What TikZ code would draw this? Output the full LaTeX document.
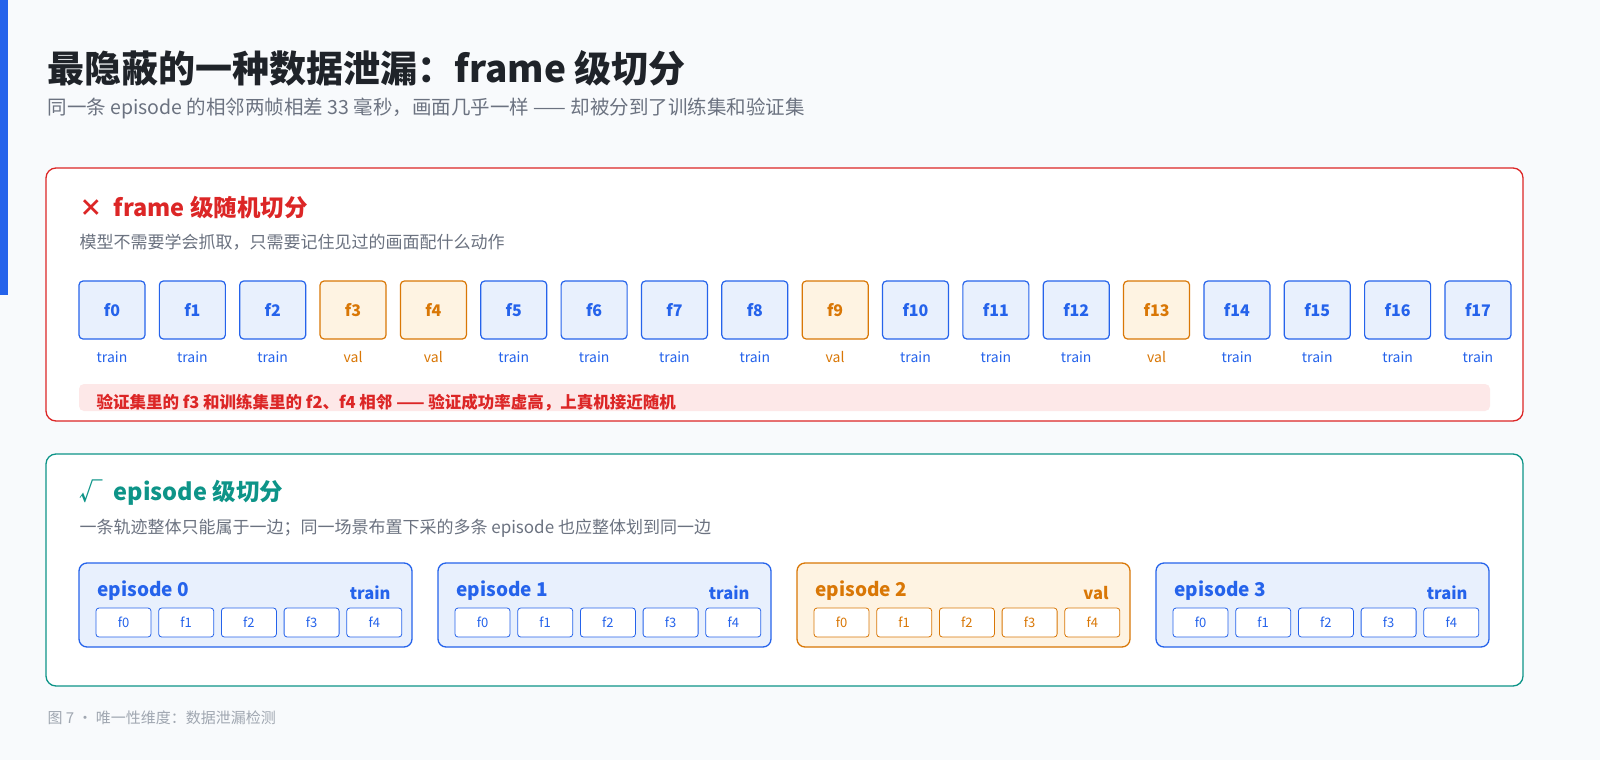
\documentclass[tikz,border=0pt]{standalone}
\usepackage{fontspec}
\setmainfont{Noto Sans CJK SC}
\definecolor{bg}{HTML}{F8FAFC}
\definecolor{bl}{HTML}{2563EB}
\definecolor{blf}{HTML}{E8F0FD}
\definecolor{og}{HTML}{D97706}
\definecolor{ogf}{HTML}{FEF3E2}
\definecolor{rd}{HTML}{DC2626}
\definecolor{rdf}{HTML}{FDE8E8}
\definecolor{tl}{HTML}{0D9488}
\definecolor{tx}{HTML}{1F2329}
\definecolor{gr}{HTML}{6B7280}
\definecolor{lg}{HTML}{A0A7B1}
\begin{document}
\begin{tikzpicture}[x=1pt,y=-1pt,
  panel/.style={draw=#1,line width=1.3pt,fill=white,rounded corners=10pt},
  fr/.style={draw=#1,line width=1.2pt,rounded corners=4pt,minimum width=66pt,minimum height=58pt,font=\bfseries\fontsize{16}{16}\selectfont,text=#1},
  lab/.style={font=\fontsize{14}{14}\selectfont,text=#1},
  ep/.style={draw=#1,line width=1.3pt,rounded corners=8pt},
  sf/.style={draw=#1,fill=white,line width=0.8pt,rounded corners=3pt,minimum width=55pt,minimum height=29pt,font=\fontsize{13}{13}\selectfont,text=#1}]
\useasboundingbox (0,0) rectangle (1600,760);
\fill[bg] (0,0) rectangle (1600,760);
\fill[bl] (0,0) rectangle (8,295);
\node[anchor=west,font=\bfseries\fontsize{37}{37}\selectfont,text=tx] (title) at (44,68) {最隐蔽的一种数据泄漏：frame 级切分};
\node[anchor=west,font=\fontsize{19.5}{19.5}\selectfont,text=gr] (sub) at (44,108) {同一条 episode 的相邻两帧相差 33 毫秒，画面几乎一样 —— 却被分到了训练集和验证集};
% red panel
\draw[panel=rd] (46,168) rectangle (1523,421);
\node[anchor=west,font=\bfseries\fontsize{23.5}{23.5}\selectfont,text=rd] (h1) at (76,208) {×\ \ frame 级随机切分};
\node[anchor=west,font=\fontsize{17}{17}\selectfont,text=gr] (s1) at (76,242) {模型不需要学会抓取，只需要记住见过的画面配什么动作};
\foreach \i in {0,...,17}{
  \pgfmathsetmacro\xx{112+80.35*\i}
  \ifnum\i=3 \def\c{og}\def\f{ogf}\def\t{val}
  \else\ifnum\i=4 \def\c{og}\def\f{ogf}\def\t{val}
  \else\ifnum\i=9 \def\c{og}\def\f{ogf}\def\t{val}
  \else\ifnum\i=13 \def\c{og}\def\f{ogf}\def\t{val}
  \else \def\c{bl}\def\f{blf}\def\t{train}\fi\fi\fi\fi
  \node[fr=\c,fill=\f] (f\i) at (\xx,310) {f\i};
  \node[lab=\c] (l\i) at (\xx,357) {\t};
}
\fill[rdf,rounded corners=5pt] (79,384) rectangle (1490,411);
\node[anchor=west,font=\bfseries\fontsize{16.5}{16.5}\selectfont,text=rd] (warn) at (93,403) {验证集里的 f3 和训练集里的 f2、f4 相邻 —— 验证成功率虚高，上真机接近随机};
% green panel
\draw[panel=tl] (46,454) rectangle (1523,686);
\node[anchor=west,font=\bfseries\fontsize{23.5}{23.5}\selectfont,text=tl] (h2) at (76,493) {√\ \ episode 级切分};
\node[anchor=west,font=\fontsize{17}{17}\selectfont,text=gr] (s2) at (76,528) {一条轨迹整体只能属于一边；同一场景布置下采的多条 episode 也应整体划到同一边};
\foreach \e/\c/\f/\t in {0/bl/blf/train,1/bl/blf/train,2/og/ogf/val,3/bl/blf/train}{
  \pgfmathsetmacro\ex{79+359*\e}
  \draw[ep=\c,fill=\f] (\ex,563) rectangle ++(333,84);
  \node[anchor=west,font=\bfseries\fontsize{19}{19}\selectfont,text=\c] (e\e) at (\ex+15,591) {episode \e};
  \node[anchor=east,font=\bfseries\fontsize{16.5}{16.5}\selectfont,text=\c] (t\e) at (\ex+315,593) {\t};
  \foreach \k in {0,...,4}{
    \node[sf=\c] (e\e f\k) at (\ex+44.5+62.7*\k,622.5) {f\k};
  }
}
\node[anchor=west,font=\fontsize{15}{15}\selectfont,text=lg] (foot) at (44,718) {图 7 · 唯一性维度：数据泄漏检测};
\end{tikzpicture}
\end{document}
